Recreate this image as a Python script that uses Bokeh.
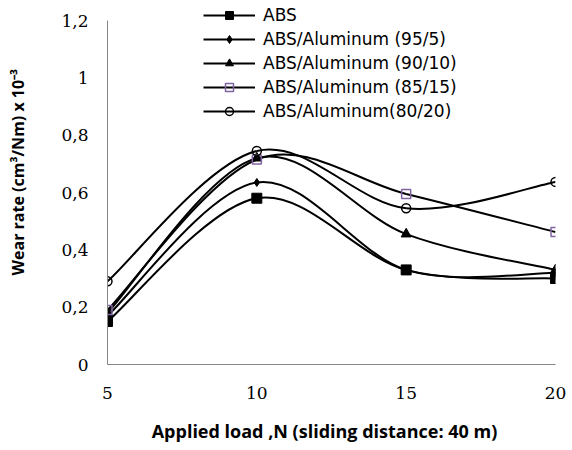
from bokeh.plotting import figure
from bokeh.models import Range1d, FixedTicker, Legend, LegendItem, ColumnDataSource
from bokeh.embed import file_html
from bokeh.resources import INLINE

loads = [5, 10, 15, 20]
abs_only = [0.15, 0.58, 0.33, 0.30]
al_95_5 = [0.17, 0.635, 0.33, 0.32]
al_90_10 = [0.18, 0.72, 0.455, 0.33]
al_85_15 = [0.19, 0.715, 0.595, 0.462]
al_80_20 = [0.29, 0.745, 0.545, 0.637]

labels = ["ABS", "ABS/Aluminum (95/5)", "ABS/Aluminum (90/10)",
          "ABS/Aluminum (85/15)", "ABS/Aluminum(80/20)"]
y_ticks = [0, 0.2, 0.4, 0.6, 0.8, 1.0, 1.2]
y_tick_labels = ["0", "0,2", "0,4", "0,6", "0,8", "1", "1,2"]
x_ticks = [5, 10, 15, 20]

series = [abs_only, al_95_5, al_90_10, al_85_15, al_80_20]
markers = ["square", "diamond", "triangle", "square", "circle"]
m_sizes = [10, 8, 10, 9, 9]
m_line = ["black", "black", "black", "#8064A2", "black"]
m_fill = ["black", "black", "black", None, None]

# frame spans the full height above the x axis so the legend is not clipped;
# the y axis line itself is bounded to 0..1.2
y_top = 1.2 * 364 / 344

p = figure(width=572, height=450, output_backend="svg", toolbar_location=None,
           x_range=Range1d(5, 20), y_range=Range1d(0, y_top),
           min_border_left=107, min_border_right=17, min_border_top=0,
           min_border_bottom=86)
p.outline_line_color = None
p.xgrid.visible = False
p.ygrid.visible = False
p.background_fill_color = "white"

def bezier_segments(xs, ys):
    n = len(xs)
    out = dict(x0=[], y0=[], x1=[], y1=[], cx0=[], cy0=[], cx1=[], cy1=[])
    for i in range(n - 1):
        i0 = max(i - 1, 0)
        i3 = min(i + 2, n - 1)
        out["x0"].append(xs[i]); out["y0"].append(ys[i])
        out["x1"].append(xs[i + 1]); out["y1"].append(ys[i + 1])
        out["cx0"].append(xs[i] + (xs[i + 1] - xs[i0]) / 6)
        out["cy0"].append(ys[i] + (ys[i + 1] - ys[i0]) / 6)
        out["cx1"].append(xs[i + 1] - (xs[i3] - xs[i]) / 6)
        out["cy1"].append(ys[i + 1] - (ys[i3] - ys[i]) / 6)
    return out

curves = []
for ys in series:
    src = ColumnDataSource(bezier_segments(loads, ys))
    r = p.bezier(x0="x0", y0="y0", x1="x1", y1="y1", cx0="cx0", cy0="cy0",
                 cx1="cx1", cy1="cy1", source=src, line_color="black", line_width=2)
    curves.append(r)

items = []
for k, ys in enumerate(series):
    sc = p.scatter(loads, ys, marker=markers[k], size=m_sizes[k],
                   line_color=m_line[k], line_width=1.5 if k >= 3 else 1,
                   fill_color=m_fill[k], fill_alpha=1 if m_fill[k] else 0)
    items.append(LegendItem(label=labels[k], renderers=[curves[k], sc]))

legend = Legend(items=items, location=(96, 241), orientation="vertical",
                glyph_width=52, glyph_height=20, label_height=24,
                label_standoff=8, spacing=0, padding=0, margin=0,
                label_text_font="DejaVu Sans", label_text_font_size="17px",
                label_text_color="black",
                border_line_alpha=0, background_fill_alpha=0)
p.add_layout(legend, "center")

for ax in (p.xaxis[0], p.yaxis[0]):
    ax.axis_line_color = "#868686"
    ax.axis_line_width = 1
    ax.major_tick_in = 0
    ax.major_tick_out = 0
    ax.minor_tick_in = 0
    ax.minor_tick_out = 0
    ax.major_label_text_font = "DejaVu Serif"
    ax.major_label_text_font_size = "17px"
    ax.major_label_text_color = "black"
    ax.axis_label_text_font = "Open Sans"
    ax.axis_label_text_font_style = "bold"
    ax.axis_label_text_color = "black"

p.xaxis.ticker = FixedTicker(ticks=x_ticks)
p.xaxis.major_label_standoff = 22
p.xaxis.axis_label = "Applied load ,N (sliding distance: 40 m)" + "\u00a0" * 3
p.xaxis.axis_label_standoff = 17
p.xaxis.axis_label_text_font_size = "18px"

p.yaxis.bounds = (0, 1.2)
p.yaxis.ticker = FixedTicker(ticks=y_ticks)
p.yaxis.major_label_overrides = {t: l for t, l in zip(y_ticks, y_tick_labels)}
p.yaxis.major_label_standoff = 19
p.yaxis.axis_label = "\u00a0" * 5 + "Wear rate (cm³/Nm) x 10⁻³"
p.yaxis.axis_label_standoff = 29
p.yaxis.axis_label_text_font_size = "16px"

open("out.html", "w").write(file_html(p, INLINE))
